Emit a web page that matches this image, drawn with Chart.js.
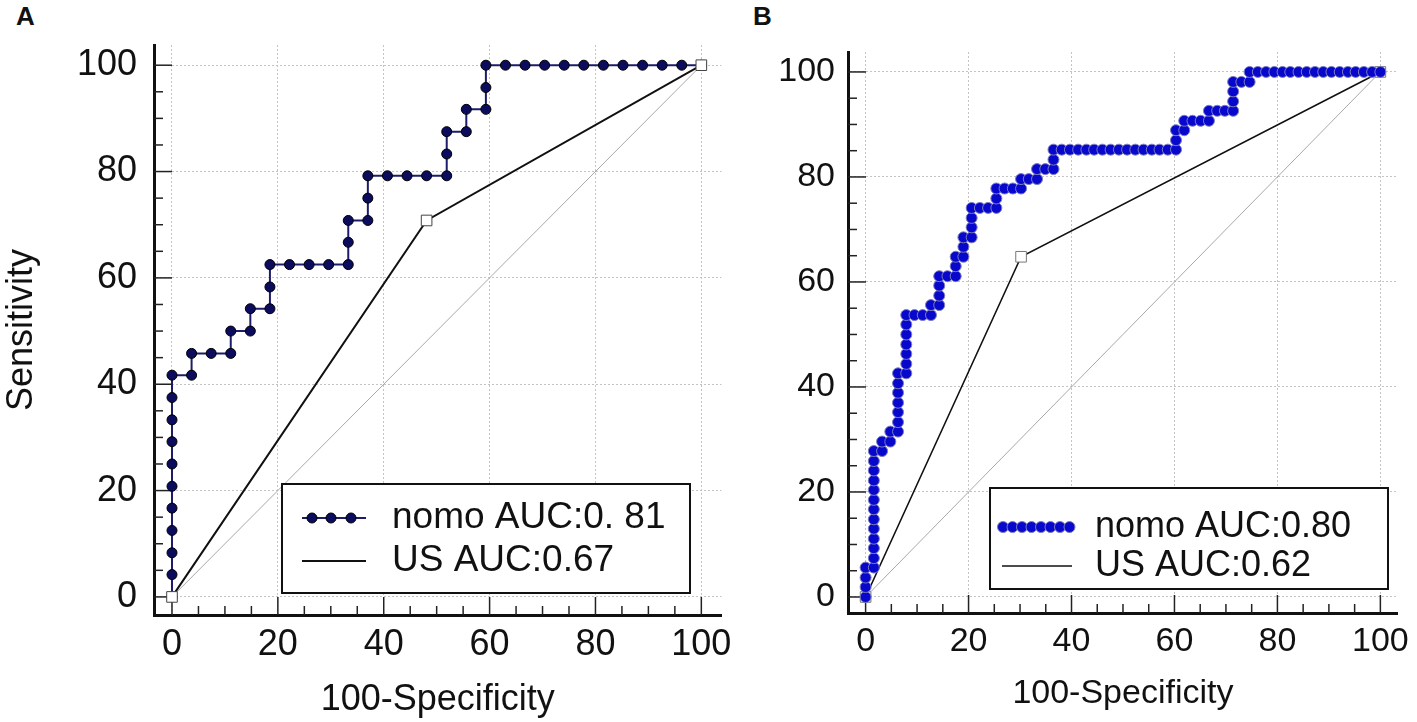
<!DOCTYPE html>
<html>
<head>
<meta charset="utf-8">
<script src="https://cdn.jsdelivr.net/npm/chart.js@4.4.0/dist/chart.umd.min.js"></script>
<style>
  body { margin: 0; background: #fff; width: 1417px; height: 722px; overflow: hidden; position: relative; font-family: 'Liberation Sans', Arial, sans-serif; }
  .panel { position: absolute; top: 0; height: 722px; }
  #pa { left: 0; width: 740px; }
  #pb { left: 740px; width: 677px; }
  .tag { position: absolute; top: 3px; font-weight: bold; font-size: 26px; line-height: 1; color: #111; }
</style>
</head>
<body>
<div class="tag" style="left:16px">A</div>
<div class="tag" style="left:753px">B</div>
<div class="panel" id="pa"><canvas id="rocA"></canvas></div>
<div class="panel" id="pb"><canvas id="rocB"></canvas></div>
<script>
// tick values shared by both panels
var majorTicks = [0, 20, 40, 60, 80, 100];
var minorTicks = [0, 5, 10, 15, 20, 25, 30, 35, 40, 45, 50, 55, 60, 65, 70, 75, 80, 85, 90, 95, 100];
var diagonal = [0, 100];

// panel A - nomogram ROC (100-specificity, sensitivity)
var nomoA_x = [0, 0, 0, 0, 0, 0, 0, 0, 0, 0, 0,
  3.7, 3.7, 7.4, 11.1, 11.1, 14.8, 14.8, 18.5, 18.5, 18.5,
  22.2, 25.9, 29.6, 33.3, 33.3, 33.3, 37.0, 37.0, 37.0,
  40.7, 44.4, 48.1, 51.9, 51.9, 51.9, 55.6, 55.6, 59.3, 59.3, 59.3,
  63.0, 66.7, 70.4, 74.1, 77.8, 81.5, 85.2, 88.9, 92.6, 96.3, 100];
var nomoA_y = [0, 4.2, 8.3, 12.5, 16.7, 20.8, 25, 29.2, 33.3, 37.5, 41.7,
  41.7, 45.8, 45.8, 45.8, 50, 50, 54.2, 54.2, 58.3, 62.5,
  62.5, 62.5, 62.5, 62.5, 66.7, 70.8, 70.8, 75, 79.2,
  79.2, 79.2, 79.2, 79.2, 83.3, 87.5, 87.5, 91.7, 91.7, 95.8, 100,
  100, 100, 100, 100, 100, 100, 100, 100, 100, 100, 100];
var usA_x = [0, 48.1, 100];
var usA_y = [0, 70.8, 100];

// panel B
var nomoB_x = [0, 0, 0, 0,
  1.6, 1.6, 1.6, 1.6, 1.6, 1.6, 1.6, 1.6, 1.6, 1.6, 1.6, 1.6, 1.6,
  3.2, 3.2, 4.8, 4.8,
  6.3, 6.3, 6.3, 6.3, 6.3, 6.3, 6.3,
  7.9, 7.9, 7.9, 7.9, 7.9, 7.9, 7.9,
  9.5, 11.1, 12.7, 12.7,
  14.3, 14.3, 14.3, 14.3,
  15.9, 17.5, 17.5, 17.5,
  19.0, 19.0, 19.0,
  20.6, 20.6, 20.6, 20.6,
  22.2, 23.8, 25.4, 25.4, 25.4,
  27.0, 28.6, 30.2, 30.2,
  31.7, 33.3, 33.3,
  34.9, 36.5, 36.5, 36.5,
  38.1, 39.7, 41.3, 42.9, 44.4, 46.0, 47.6, 49.2, 50.8, 52.4, 54.0, 55.6, 57.1, 58.7, 60.3,
  60.3, 60.3, 61.9, 61.9, 63.5, 65.1, 66.7, 66.7,
  68.3, 69.8, 71.4, 71.4, 71.4, 71.4,
  73.0, 74.6, 74.6,
  76.2, 77.8, 79.4, 81.0, 82.5, 84.1, 85.7, 87.3, 88.9, 90.5, 92.1, 93.7, 95.2, 96.8, 98.4, 100];
var nomoB_y = [0, 1.9, 3.7, 5.6,
  5.6, 7.4, 9.3, 11.1, 13.0, 14.8, 16.7, 18.5, 20.4, 22.2, 24.1, 25.9, 27.8,
  27.8, 29.6, 29.6, 31.5,
  31.5, 33.3, 35.2, 37.0, 38.9, 40.7, 42.6,
  42.6, 44.4, 46.3, 48.1, 50.0, 51.9, 53.7,
  53.7, 53.7, 53.7, 55.6,
  55.6, 57.4, 59.3, 61.1,
  61.1, 61.1, 63.0, 64.8,
  64.8, 66.7, 68.5,
  68.5, 70.4, 72.2, 74.1,
  74.1, 74.1, 74.1, 75.9, 77.8,
  77.8, 77.8, 77.8, 79.6,
  79.6, 79.6, 81.5,
  81.5, 81.5, 83.3, 85.2,
  85.2, 85.2, 85.2, 85.2, 85.2, 85.2, 85.2, 85.2, 85.2, 85.2, 85.2, 85.2, 85.2, 85.2, 85.2,
  87.0, 88.9, 88.9, 90.7, 90.7, 90.7, 90.7, 92.6,
  92.6, 92.6, 92.6, 94.4, 96.3, 98.1,
  98.1, 98.1, 100,
  100, 100, 100, 100, 100, 100, 100, 100, 100, 100, 100, 100, 100, 100, 100, 100];
var usB_x = [0, 30.2, 100];
var usB_y = [0, 64.8, 100];

var FONT = "'Liberation Sans', Arial, sans-serif";

function pts(xs, ys) {
  return xs.map(function (v, i) { return { x: v, y: ys[i] }; });
}

// ticks pointing into the plot, long ones at the labelled values
var inwardTicks = {
  id: 'inwardTicks',
  beforeDatasetsDraw: function (chart) {
    var ctx = chart.ctx, a = chart.chartArea, sx = chart.scales.x, sy = chart.scales.y;
    ctx.save();
    ctx.strokeStyle = '#222';
    ctx.lineWidth = 1.5;
    minorTicks.forEach(function (v) {
      var len = majorTicks.indexOf(v) >= 0 ? 18 : 9;
      var px = sx.getPixelForValue(v), py = sy.getPixelForValue(v);
      ctx.beginPath(); ctx.moveTo(px, a.bottom); ctx.lineTo(px, a.bottom - len); ctx.stroke();
      ctx.beginPath(); ctx.moveTo(a.left, py); ctx.lineTo(a.left + len, py); ctx.stroke();
    });
    ctx.restore();
  }
};

// framed legend like the original figure
var boxLegend = {
  id: 'boxLegend',
  afterDraw: function (chart, args, o) {
    var ctx = chart.ctx;
    ctx.save();
    ctx.fillStyle = '#fff';
    ctx.fillRect(o.box[0], o.box[1], o.box[2], o.box[3]);
    ctx.strokeStyle = '#111';
    ctx.lineWidth = 2;
    ctx.strokeRect(o.box[0], o.box[1], o.box[2], o.box[3]);
    chart.data.datasets.forEach(function (ds) {
      if (ds.legendRow === undefined) return;
      var yy = o.rows[ds.legendRow];
      ctx.strokeStyle = ds.borderColor;
      ctx.lineWidth = ds.borderWidth;
      ctx.beginPath(); ctx.moveTo(o.sample[0], yy); ctx.lineTo(o.sample[1], yy); ctx.stroke();
      if (ds.legendRow === 0) {
        o.marks.forEach(function (mx) {
          ctx.beginPath();
          ctx.arc(mx, yy, ds.pointRadius, 0, Math.PI * 2);
          ctx.fillStyle = ds.pointBackgroundColor;
          ctx.fill();
          ctx.lineWidth = ds.pointBorderWidth;
          ctx.strokeStyle = ds.pointBorderColor;
          ctx.stroke();
        });
      }
      ctx.fillStyle = '#111';
      ctx.font = o.fontSize + 'px ' + FONT;
      ctx.textBaseline = 'middle';
      ctx.textAlign = 'left';
      ctx.fillText(ds.label, o.textX, yy);
    });
    ctx.restore();
  }
};

function rocChart(id, p) {
  return new Chart(document.getElementById(id), {
    type: 'scatter',
    data: { datasets: p.datasets },
    plugins: [inwardTicks, boxLegend],
    options: {
      responsive: true,
      maintainAspectRatio: false,
      animation: false,
      events: [],
      layout: { padding: { top: p.padTop, right: p.padRight, left: 0, bottom: 0 } },
      plugins: {
        legend: { display: false },
        tooltip: { enabled: false },
        boxLegend: p.legend
      },
      scales: {
        x: {
          type: 'linear',
          min: p.xRange[0], max: p.xRange[1],
          afterBuildTicks: function (s) { s.ticks = majorTicks.map(function (v) { return { value: v }; }); },
          afterFit: function (s) { s.height = p.xHeight; },
          grid: { color: '#c4c4c4', lineWidth: 1, drawTicks: false },
          border: { display: true, color: '#111', width: 3, dash: [2, 2] },
          ticks: { color: '#111', font: { family: FONT, size: p.fontSize }, padding: p.xTickPad, maxRotation: 0, autoSkip: false },
          title: { display: true, text: '100-Specificity', color: '#111', font: { family: FONT, size: p.fontSize }, padding: { top: 0, bottom: p.xTitlePad } }
        },
        y: {
          type: 'linear',
          min: p.yRange[0], max: p.yRange[1],
          afterBuildTicks: function (s) { s.ticks = majorTicks.map(function (v) { return { value: v }; }); },
          afterFit: function (s) { s.width = p.yWidth; },
          grid: { color: '#c4c4c4', lineWidth: 1, drawTicks: false },
          border: { display: true, color: '#111', width: 3, dash: [2, 2] },
          ticks: { color: '#111', font: { family: FONT, size: p.fontSize }, padding: p.yTickPad },
          title: { display: !!p.yTitle, text: p.yTitle || '', color: '#111', font: { family: FONT, size: p.fontSize }, padding: 0 }
        }
      }
    }
  });
}

rocChart('rocA', {
  padTop: 45, padRight: 18, xHeight: 107, yWidth: 154,
  xRange: [-3.4, 103.8], yRange: [-3.4, 103.8],
  fontSize: 36, xTickPad: 8, yTickPad: 17, xTitlePad: 0, yTitle: 'Sensitivity',
  legend: { box: [282, 484, 408, 109], rows: [518, 561], sample: [302, 366], marks: [312, 331, 351], textX: 392, fontSize: 37 },
  datasets: [
    { label: 'US AUC:0.67', legendRow: 1, data: pts(usA_x, usA_y), showLine: true, borderColor: '#111', borderWidth: 2,
      pointStyle: 'rect', pointRadius: 7.5, pointBackgroundColor: '#fff', pointBorderColor: '#444', pointBorderWidth: 1, order: 0 },
    { label: 'nomo AUC:0. 81', legendRow: 0, data: pts(nomoA_x, nomoA_y), showLine: true, borderColor: '#1c1c6a', borderWidth: 2,
      pointRadius: 5, pointBackgroundColor: '#0c0c5e', pointBorderColor: '#000', pointBorderWidth: 1, order: 1 },
    { data: pts(diagonal, diagonal), showLine: true, borderColor: '#a8a8a8', borderWidth: 1, pointRadius: 0, order: 2 }
  ]
});

rocChart('rocB', {
  padTop: 52, padRight: 7, xHeight: 109, yWidth: 108,
  xRange: [-3.42, 103.4], yRange: [-3.05, 103.8],
  fontSize: 34, xTickPad: 8, yTickPad: 13, xTitlePad: 8, yTitle: null,
  legend: { box: [250, 488, 398, 101], rows: [527, 566], sample: [262, 332],
    marks: [263, 272.5, 282, 291.5, 301, 310.5, 320, 329.5], textX: 355, fontSize: 36 },
  datasets: [
    { label: 'nomo AUC:0.80', legendRow: 0, data: pts(nomoB_x, nomoB_y), showLine: true, borderColor: '#1818c0', borderWidth: 2,
      pointRadius: 5.5, pointBackgroundColor: '#0808cc', pointBorderColor: '#7c7cc0', pointBorderWidth: 1, order: 0 },
    { label: 'US AUC:0.62', legendRow: 1, data: pts(usB_x, usB_y), showLine: true, borderColor: '#111', borderWidth: 1.6,
      pointStyle: 'rect', pointRadius: 7.5, pointBackgroundColor: '#fff', pointBorderColor: '#777', pointBorderWidth: 1, order: 1 },
    { data: pts(diagonal, diagonal), showLine: true, borderColor: '#a8a8a8', borderWidth: 1, pointRadius: 0, order: 2 }
  ]
});
</script>
</body>
</html>
